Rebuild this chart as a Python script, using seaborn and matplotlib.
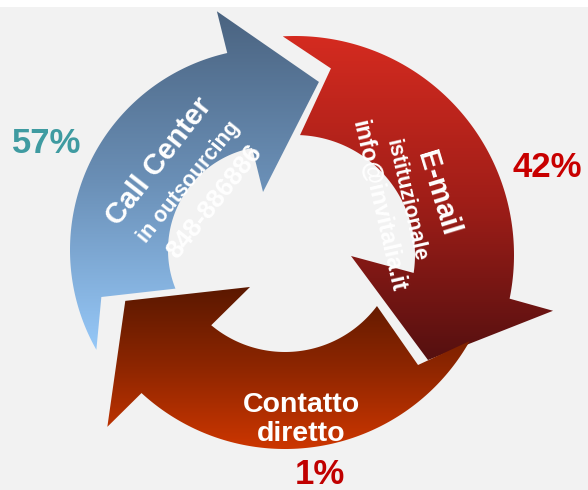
import numpy as np
import matplotlib
matplotlib.use("Agg")
import matplotlib.pyplot as plt
import seaborn as sns
from matplotlib.patches import Polygon, Rectangle

# ---- data ----
labels = ["Call Center", "E-mail", "Contatto\ndiretto"]
sublabels = ["in outsourcing", "istituzionale", ""]
contacts = ["848-886886", "info@invitalia.it", ""]
shares = [57, 42, 1]
share_colors = ["#3f9ba1", "#c80000", "#c00000"]
gradients = [["#4a6380", "#6a8fb6", "#96c8f8"],
             ["#d52b20", "#a11e18", "#551010"],
             ["#5a1800", "#8e2600", "#cc3600"]]

# ---- style / geometry (pixel space, y down) ----
BG = "#f2f2f2"
sns.set_theme(style="white", rc={"figure.facecolor": BG, "axes.facecolor": BG})
plt.rcParams["font.family"] = ["Liberation Sans", "DejaVu Sans"]

geom = [
    dict(c=(272, 250), rin=104, rout=202, to=209.6, ti=201.8, notch=(195.4, 177),
         oc=102.8, ob=(103.0, 245), tip=(74.4, 174.5), ib=(98.8, 58.7), ic=101.0),
    dict(c=(295, 255), rin=120, rout=219, to=93.2, ti=87.6, notch=(79.1, 190),
         oc=-11.5, ob=(-12.2, 264), tip=(-38.3, 169.5), ib=(-1.0, 56), ic=-8.6),
    dict(c=(285, 237), rin=115, rout=212, to=330.6, ti=323.1, notch=(316.1, 184.6),
         oc=227.4, ob=(226.9, 260), tip=(201.8, 172), ib=(235.0, 61), ic=230.1),
]


def P(c, a, r):
    t = np.deg2rad(a)
    return (c[0] + r * np.cos(t), c[1] - r * np.sin(t))


def arc(c, r, a0, a1, n=120):
    return [P(c, a, r) for a in np.linspace(a0, a1, n)]


fig = plt.figure(figsize=(5.88, 4.90), dpi=100)
ax = fig.add_axes([0, 0, 1, 1])
ax.set_facecolor(BG)

for g, cols in zip(geom, gradients):
    c = g["c"]
    pts = arc(c, g["rout"], g["to"], g["oc"])
    pts += [P(c, g["ob"][0], g["ob"][1]),
            P(c, g["tip"][0], g["tip"][1]),
            P(c, g["ib"][0], g["ib"][1])]
    pts += arc(c, g["rin"], g["ic"], g["ti"])
    pts += [P(c, g["notch"][0], g["notch"][1])]
    pts = np.array(pts)
    poly = Polygon(pts, closed=True, facecolor="none", edgecolor="none")
    ax.add_patch(poly)
    x0, x1 = pts[:, 0].min(), pts[:, 0].max()
    y0, y1 = pts[:, 1].min(), pts[:, 1].max()
    cmap = sns.blend_palette(cols, n_colors=256, as_cmap=True)
    grad = np.linspace(0, 1, 256).reshape(-1, 1)
    im = ax.imshow(grad, cmap=cmap, extent=(x0, x1, y1, y0), origin="upper",
                   aspect="auto", interpolation="bilinear", zorder=2)
    im.set_clip_path(poly)

ax.add_patch(Rectangle((0, 0), 588, 7, facecolor="white", edgecolor="none", zorder=5))

bold = dict(color="white", fontweight="bold", rotation_mode="anchor",
            ha="center", va="center", zorder=6)
# Call Center
ax.text(159, 161, labels[0], fontsize=21, rotation=52, **bold)
ax.text(189, 182, sublabels[0], fontsize=15.5, rotation=51, **bold)
ax.text(214, 202, contacts[0], fontsize=18.5, rotation=51.5, **bold)
# E-mail
ax.text(437, 193, labels[1], fontsize=21, rotation=-73, **bold)
ax.text(406, 200, sublabels[1], fontsize=15.5, rotation=-77, **bold)
ax.text(378, 206, contacts[1], fontsize=17, rotation=-77, **bold)
# Contatto diretto
ax.text(301, 419, labels[2], fontsize=20.5, color="white", fontweight="bold",
        ha="center", va="center", linespacing=1.15, zorder=6)

# percentages
pct_pos = [(47, 153), (547, 177), (320, 484)]
for v, col, (x, y) in zip(shares, share_colors, pct_pos):
    ax.text(x, y, f"{v}%", fontsize=25, fontweight="bold", color=col,
            ha="center", va="baseline", zorder=6)

ax.set_xlim(0, 588)
ax.set_ylim(490, 0)
ax.axis("off")
fig.savefig("out.png", dpi=100, facecolor=BG)
